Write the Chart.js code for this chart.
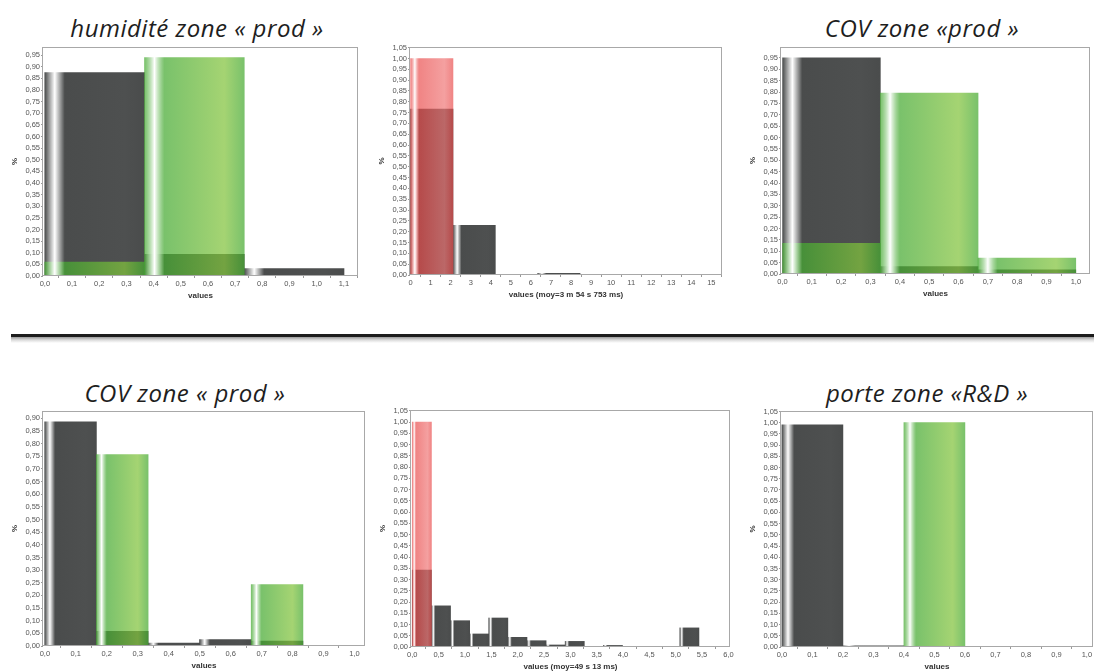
<!DOCTYPE html>
<html lang="fr">
<head>
<meta charset="utf-8">
<script src="https://cdn.jsdelivr.net/npm/chart.js@4.4.1/dist/chart.umd.min.js"></script>
<style>
  body { margin: 0; width: 1094px; height: 671px; overflow: hidden; background: #fff; position: relative; }
  .panel { position: absolute; }
  .titre { position: absolute; transform: translate(-50%, -50%); font: italic 24px "Open Sans", sans-serif; letter-spacing: 0.5px; color: #1e1e1e; white-space: nowrap; }
  .sep { position: absolute; left: 11px; top: 334px; width: 1083px; height: 9px;
         background: linear-gradient(#1c1c1c 0, #1c1c1c 3px, #9a9a9a 3px, #dcdcdc 6px, #fff 9px); }
  #p1 { left: 10px;  top: 41px;  width: 355px; height: 260px; }
  #p2 { left: 377px; top: 41px;  width: 352px; height: 259px; }
  #p3 { left: 748px; top: 41px;  width: 349px; height: 258px; }
  #p4 { left: 10px;  top: 405px; width: 362px; height: 266px; }
  #p5 { left: 378px; top: 404px; width: 359px; height: 268px; }
  #p6 { left: 748px; top: 405px; width: 352px; height: 267px; }
</style>
</head>
<body>
<div class="titre" style="left:197px; top:27px">humidité zone « prod »</div>
<div class="titre" style="left:922px; top:27px">COV zone «prod »</div>
<div class="titre" style="left:185px; top:392px">COV zone « prod »</div>
<div class="titre" style="left:927px; top:392px">porte zone «R&amp;D »</div>
<div class="sep"></div>

<div class="panel" id="p1"><canvas id="c1"></canvas></div>
<div class="panel" id="p2"><canvas id="c2"></canvas></div>
<div class="panel" id="p3"><canvas id="c3"></canvas></div>
<div class="panel" id="p4"><canvas id="c4"></canvas></div>
<div class="panel" id="p5"><canvas id="c5"></canvas></div>
<div class="panel" id="p6"><canvas id="c6"></canvas></div>

<script>
// bin centres and frequencies
const humCentres = [0.183, 0.55, 0.917];
const humGrey = [0.875, 0.093, 0.032];
const humGreen = [0.06, 0.94, 0];

const durCentres = [1.056, 3.169, 5.282, 7.395, 9.508, 11.621, 13.734];
const durGrey = [0.766, 0.229, 0, 0.008, 0, 0, 0.002];
const durRed = [1.0, 0, 0, 0, 0, 0, 0];

const covCentres = [0.167, 0.5, 0.833];
const covGrey = [0.95, 0.033, 0.018];
const covGreen = [0.135, 0.795, 0.07];

const cov2Centres = [0.083, 0.25, 0.417, 0.583, 0.75, 0.917];
const cov2Grey = [0.886, 0.058, 0.012, 0.025, 0.019, 0];
const cov2Green = [0, 0.757, 0, 0, 0.243, 0];

const dur2Centres = [0.181, 0.544, 0.907, 1.269, 1.632, 1.995, 2.358, 2.720, 3.083, 3.446, 3.808, 4.171, 4.534, 4.896, 5.259];
const dur2Grey = [0.342, 0.183, 0.117, 0.058, 0.129, 0.043, 0.028, 0.009, 0.025, 0, 0.007, 0, 0, 0, 0.085];
const dur2Red = [1.0, 0, 0, 0, 0, 0, 0, 0, 0, 0, 0, 0, 0, 0, 0];

const doorCentres = [0.1, 0.3, 0.5, 0.7, 0.9];
const doorGrey = [0.99, 0.005, 0, 0.003, 0];
const doorGreen = [0, 0, 1.0, 0, 0];

const GREY = ["#4a4c4c", "#4e5050"];
const GREEN = ["rgba(70,170,50,0.72)", "rgba(130,195,60,0.72)"];
const RED = ["rgba(233,74,74,0.68)", "rgba(239,115,115,0.68)"];

// left-to-right bar shading: base -> white -> base -> lighter -> base
function barPaint(colors) {
  return (ctx) => {
    const xs = ctx.chart.scales.x;
    if (!ctx.raw || !xs || !ctx.dataset || !ctx.dataset.binWidth) return colors[0];
    const half = ctx.dataset.binWidth / 2;
    const l = xs.getPixelForValue(ctx.raw.x - half);
    const r = xs.getPixelForValue(ctx.raw.x + half);
    if (!isFinite(l) || !isFinite(r) || r <= l) return colors[0];
    const g = ctx.chart.ctx.createLinearGradient(l, 0, r, 0);
    g.addColorStop(0, colors[0]);
    g.addColorStop(0.1, "#ffffff");
    g.addColorStop(0.2, colors[0]);
    g.addColorStop(0.8, colors[1]);
    g.addColorStop(1, colors[0]);
    return g;
  };
}

// bars span the whole bin; box around the plot
const histoPlugin = {
  id: "histo",
  afterDatasetUpdate(chart, args) {
    const ds = chart.data.datasets[args.index];
    const xs = chart.scales.x;
    const half = ds.binWidth / 2;
    args.meta.data.forEach((bar, i) => {
      const c = ds.data[i].x;
      const l = xs.getPixelForValue(c - half);
      const r = xs.getPixelForValue(c + half);
      bar.x = (l + r) / 2;
      bar.width = r - l;
    });
  },
  afterDatasetsDraw(chart) {
    const { ctx, chartArea: a } = chart;
    ctx.save();
    ctx.strokeStyle = "#a8a8a8";
    ctx.lineWidth = 1;
    ctx.strokeRect(Math.round(a.left) - 0.5, Math.round(a.top) + 0.5,
      Math.round(a.right) - Math.round(a.left), Math.round(a.bottom) - Math.round(a.top) - 1);
    ctx.restore();
  }
};

function series(centres, values, colors) {
  return {
    data: centres.map((x, i) => ({ x: x, y: values[i] })),
    binWidth: centres[1] - centres[0],
    backgroundColor: barPaint(colors),
    borderWidth: 0,
    grouped: false,
    barPercentage: 1,
    categoryPercentage: 1
  };
}

const tickFont = { family: "Liberation Sans", size: 7.5 };
const titleFont = { family: "Liberation Sans", size: 8, weight: "bold" };

function makeHisto(id, centres, grey, colored, colors, xAxis, yMax, xTitle) {
  new Chart(document.getElementById(id), {
    type: "bar",
    data: {
      datasets: [series(centres, colored, colors), series(centres, grey, GREY)]
    },
    options: {
      responsive: true,
      maintainAspectRatio: false,
      animation: false,
      events: [],
      layout: { padding: { top: 6, right: 7, left: 0, bottom: 0 } },
      plugins: { legend: { display: false }, tooltip: { enabled: false } },
      scales: {
        x: {
          type: "linear",
          min: xAxis.min, max: xAxis.max, offset: false,
          grid: { drawOnChartArea: false, tickLength: 2, color: "#9a9a9a" },
          border: { display: false },
          ticks: {
            stepSize: xAxis.step, includeBounds: false, autoSkip: false, maxRotation: 0,
            padding: 1, color: "#555", font: tickFont,
            callback: (v) => v.toFixed(xAxis.digits).replace(".", ",")
          },
          title: { display: true, text: xTitle, color: "#333", font: titleFont, padding: 0 },
          afterFit: (s) => { s.height = 25; }
        },
        y: {
          min: 0, max: yMax,
          grid: { drawOnChartArea: false, tickLength: 2, color: "#9a9a9a" },
          border: { display: false },
          ticks: {
            stepSize: 0.05, includeBounds: false, autoSkip: false,
            padding: 1, color: "#555", font: tickFont,
            callback: (v) => v.toFixed(2).replace(".", ",")
          },
          title: { display: true, text: "%", color: "#333", font: titleFont, padding: 0 },
          afterFit: (s) => { s.width = 33; }
        }
      }
    },
    plugins: [histoPlugin]
  });
}

makeHisto("c1", humCentres, humGrey, humGreen, GREEN,
  { min: -0.007, max: 1.152, step: 0.1, digits: 1 }, 0.985, "values");
makeHisto("c2", durCentres, durGrey, durRed, RED,
  { min: -0.03, max: 15.53, step: 1, digits: 0 }, 1.053, "values (moy=3 m 54 s 753 ms)");
makeHisto("c3", covCentres, covGrey, covGreen, GREEN,
  { min: -0.005, max: 1.048, step: 0.1, digits: 1 }, 0.998, "values");
makeHisto("c4", cov2Centres, cov2Grey, cov2Green, GREEN,
  { min: -0.006, max: 1.034, step: 0.1, digits: 1 }, 0.929, "values");
makeHisto("c5", dur2Centres, dur2Grey, dur2Red, RED,
  { min: -0.025, max: 6.03, step: 0.5, digits: 1 }, 1.054, "values (moy=49 s 13 ms)");
makeHisto("c6", doorCentres, doorGrey, doorGreen, GREEN,
  { min: -0.003, max: 1.02, step: 0.1, digits: 1 }, 1.052, "values");
</script>
</body>
</html>
